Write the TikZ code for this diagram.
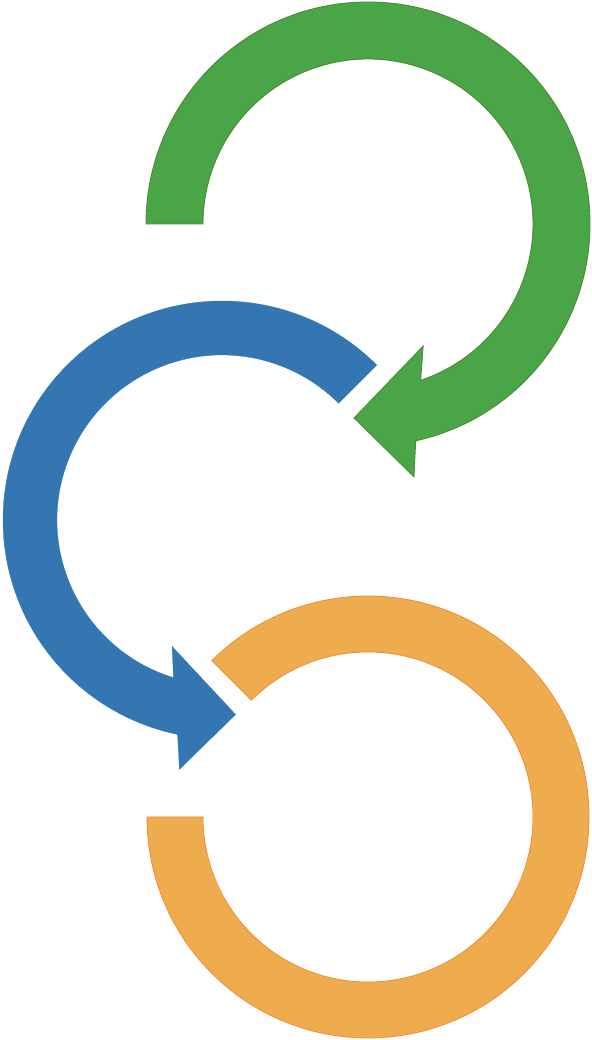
\documentclass[tikz,border=0pt]{standalone}
\definecolor{arcgreen}{HTML}{4AA547}
\definecolor{arcgreenline}{HTML}{4E8A37}
\definecolor{arcblue}{HTML}{3476B1}
\definecolor{arcorange}{HTML}{EFAC4E}
\definecolor{arcorangeline}{HTML}{EB8A30}
\begin{document}
\begin{tikzpicture}[x=1pt, y=1pt,
  greenarc/.style={fill=arcgreen, draw=arcgreenline, line width=0.9pt, line join=miter},
  bluearc/.style={fill=arcblue, draw=arcblue, line width=0.3pt, line join=miter},
  orangearc/.style={fill=arcorange, draw=arcorangeline, line width=0.7pt}]
  \useasboundingbox (0,0) rectangle (591,1040);
  \coordinate (G) at (368,816);
  \coordinate (B) at (222,520);
  \coordinate (O) at (368,223);
  \begin{scope}[shift={(G)}]
    \draw[greenarc] (180:222) arc[start angle=180, end angle=-77.6, radius=222]
      -- (-79.7:257) -- (-94.1:194.5) -- (-65.7:134) -- (-71.4:165)
      arc[start angle=-71.4, end angle=180, radius=165] -- cycle;
  \end{scope}
  \begin{scope}[shift={(B)}]
    \draw[bluearc] (45:219) arc[start angle=45, end angle=258.3, radius=219]
      -- (260.3:253) -- (274:195) -- (248.5:136) -- (252.9:165)
      arc[start angle=252.9, end angle=45, radius=165] -- cycle;
  \end{scope}
  \begin{scope}[shift={(O)}]
    \draw[orangearc] (180:221) arc[start angle=180, end angle=495, radius=221]
      -- (495:165) arc[start angle=495, end angle=180, radius=165] -- cycle;
  \end{scope}
\end{tikzpicture}
\end{document}
